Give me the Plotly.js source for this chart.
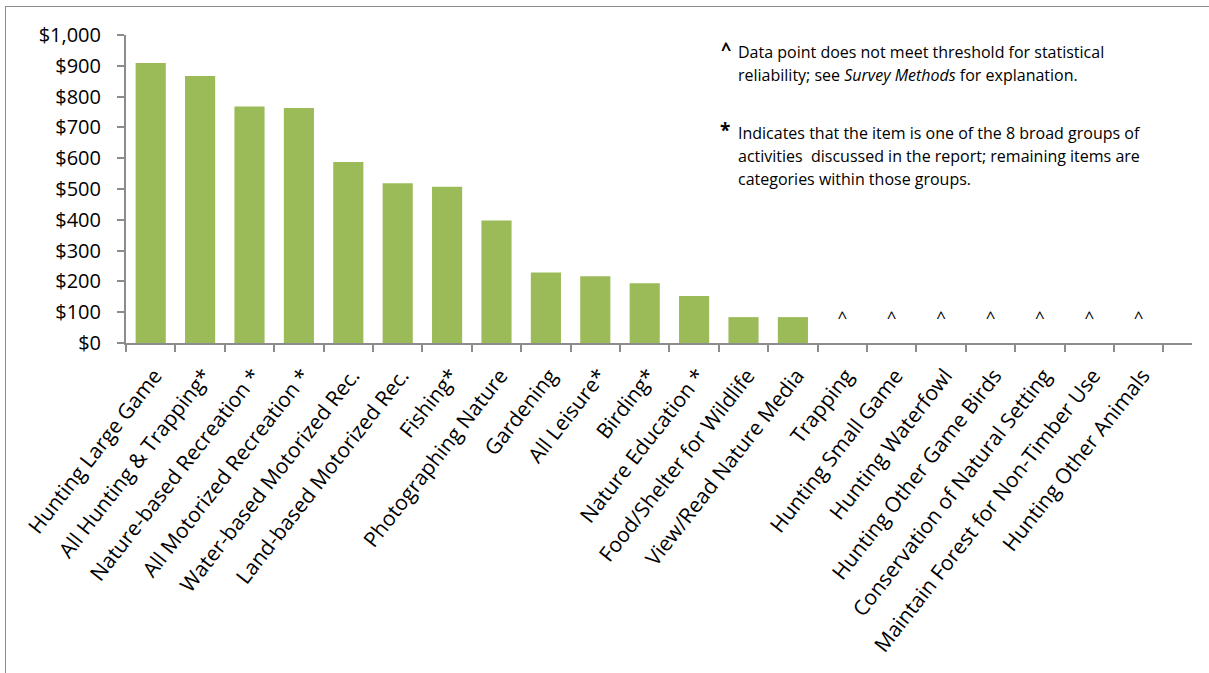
<!DOCTYPE html>
<html>
<head>
<meta charset="utf-8">
<script src="https://cdn.plot.ly/plotly-3.0.1.min.js"></script>
<style>
html,body{margin:0;padding:0;background:#fff;overflow:hidden;}
#frame{position:absolute;left:5px;top:6px;width:1230px;height:700px;border:1px solid #8c8c8c;box-sizing:border-box;}
#chart{position:absolute;left:0;top:0;width:1209px;height:673px;}
</style>
</head>
<body>
<div id="frame"></div>
<div id="chart"></div>
<script>
const categories = [
  "Hunting Large Game", "All Hunting & Trapping*", "Nature-based Recreation *",
  "All Motorized Recreation *", "Water-based Motorized Rec.", "Land-based Motorized Rec.",
  "Fishing*", "Photographing Nature", "Gardening", "All Leisure*", "Birding*",
  "Nature Education *", "Food/Shelter for Wildlife", "View/Read Nature Media",
  "Trapping", "Hunting Small Game", "Hunting Waterfowl", "Hunting Other Game Birds",
  "Conservation of Natural Setting", "Maintain Forest for Non-Timber Use", "Hunting Other Animals"
];
const values = [909, 867, 768, 763, 588, 519, 507, 398, 229, 217, 194, 153, 84, 84,
                null, null, null, null, null, null, null];
const unreliable = [false,false,false,false,false,false,false,false,false,false,false,false,false,false,
                    true,true,true,true,true,true,true];
const yTickVals = [0,100,200,300,400,500,600,700,800,900,1000];
const yTickText = ["$0","$100","$200","$300","$400","$500","$600","$700","$800","$900","$1,000"];

const FONT = "'Open Sans', sans-serif";
const W = 1209, H = 673, L = 126, R = 17, T = 35, B = 330;
const px = x => (x - L) / (W - L - R);
const py = y => (H - B - y) / (H - T - B);

const caretIdx = categories.filter((c, i) => unreliable[i]);
const bars = {
  type: "bar", x: categories, y: values,
  marker: {color: "#9BBB59"}, hoverinfo: "x+y"
};
const carets = {
  type: "scatter", mode: "text", x: caretIdx, y: caretIdx.map(() => 78),
  text: caretIdx.map(() => "^"), textfont: {family: FONT, size: 17, color: "#000"},
  hoverinfo: "skip"
};

const noteFont = {family: FONT, size: 16, color: "#000"};
const ann = (x, y, text, size) => ({
  xref: "paper", yref: "paper", x: px(x), y: py(y), xanchor: "left", yanchor: "middle",
  text: text, showarrow: false, align: "left",
  font: Object.assign({}, noteFont, size ? {size: size} : {})
});

const layout = {
  width: W, height: H,
  margin: {l: L, r: R, t: T, b: B},
  paper_bgcolor: "rgba(0,0,0,0)", plot_bgcolor: "rgba(0,0,0,0)",
  showlegend: false, bargap: 0.39,
  xaxis: {
    type: "category", tickangle: -52, tickfont: {family: FONT, size: 21, color: "#000"},
    showline: true, linecolor: "#8c8c8c", linewidth: 2,
    ticks: "outside", tickson: "boundaries", ticklen: 7, tickcolor: "#8c8c8c", tickwidth: 2,
    ticklabelstandoff: 10, ticklabelshift: 4,
    showgrid: false, zeroline: false, fixedrange: true
  },
  yaxis: {
    range: [0, 1000], tickvals: yTickVals, ticktext: yTickText,
    tickfont: {family: FONT, size: 20, color: "#000"},
    showline: true, linecolor: "#8c8c8c", linewidth: 2,
    ticks: "outside", ticklen: 7, tickcolor: "#8c8c8c", tickwidth: 2,
    ticklabelstandoff: 12,
    showgrid: false, zeroline: false, fixedrange: true
  },
  annotations: [
    ann(719, 49, "<b>^</b>", 18),
    ann(736, 52, "Data point does not meet threshold for statistical"),
    ann(736, 75, "reliability; see <i>Survey Methods</i> for explanation."),
    ann(718, 130, "<b>*</b>", 19),
    ann(736, 133, "Indicates that the item is one of the 8 broad groups of"),
    ann(736, 156, "activities  discussed in the report; remaining items are"),
    ann(736, 179, "categories within those groups.")
  ]
};

Plotly.newPlot("chart", [bars, carets], layout, {displayModeBar: false, staticPlot: true});
</script>
</body>
</html>
